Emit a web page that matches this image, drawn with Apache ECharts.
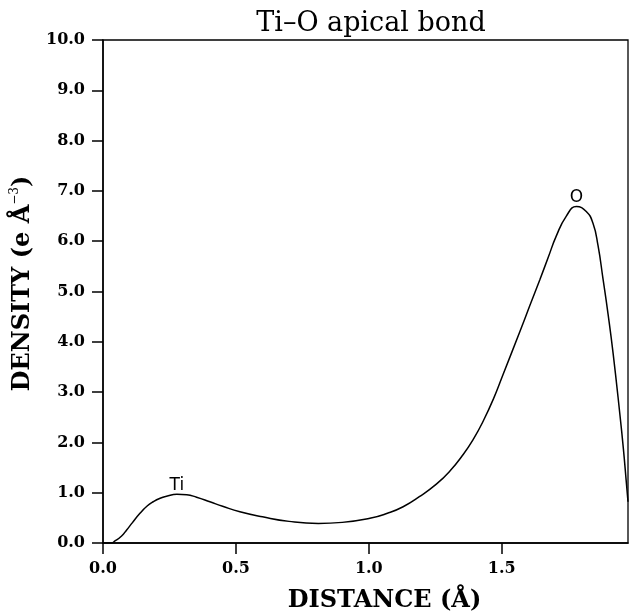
<!DOCTYPE html>
<html><head><meta charset="utf-8">
<script src="https://cdn.jsdelivr.net/npm/echarts@6/dist/echarts.min.js"></script>
<style>html,body{margin:0;padding:0;background:#fff}#c{width:631px;height:613px}</style>
</head><body><div id="c"></div>
<script>
const distance = [0, 0.03, 0.045, 0.07, 0.089, 0.11, 0.139, 0.165, 0.189, 0.215, 0.239, 0.278, 0.315, 0.352, 0.402, 0.45, 0.515, 0.60, 0.70, 0.81, 0.90, 1.004, 1.07, 1.129, 1.19, 1.254, 1.305, 1.355, 1.395, 1.43, 1.47, 1.505, 1.568, 1.605, 1.643, 1.675, 1.705, 1.743, 1.781, 1.818, 1.843, 1.862, 1.881, 1.900, 1.919, 1.944, 1.958, 1.968, 1.975];
const density  = [0, 0, 0.04, 0.14, 0.26, 0.40, 0.59, 0.73, 0.82, 0.89, 0.93, 0.97, 0.96, 0.91, 0.82, 0.73, 0.62, 0.52, 0.43, 0.39, 0.41, 0.49, 0.59, 0.72, 0.92, 1.17, 1.43, 1.76, 2.08, 2.42, 2.88, 3.35, 4.20, 4.71, 5.23, 5.68, 6.10, 6.50, 6.69, 6.59, 6.36, 5.92, 5.25, 4.55, 3.77, 2.58, 1.85, 1.25, 0.82];
const peakLabels = [{name: 'Ti', x: 0.278, y: 0.97}, {name: 'O', x: 1.781, y: 6.69}];
const xTicks = [0, 0.5, 1.0, 1.5];
const yTicks = [0,1,2,3,4,5,6,7,8,9,10];

const serif = '"DejaVu Serif", "Liberation Serif", serif';
const chart = echarts.init(document.getElementById('c'));
chart.setOption({
  backgroundColor: '#fff',
  animation: false,
  title: {
    text: 'Ti–O apical bond', left: 366, top: 5, textAlign: 'center',
    textStyle: {fontFamily: serif, fontWeight: 'normal', fontSize: 27, color: '#000'}
  },
  grid: {left: 103, right: 3, top: 40, bottom: 70, show: true, borderColor: '#000', borderWidth: 1.3,
    containLabel: false, outerBoundsMode: 'none'},
  xAxis: {
    type: 'value', min: 0, max: 1.975, interval: 0.5,
    name: 'DISTANCE (Å)', nameLocation: 'middle', nameGap: 46,
    nameTextStyle: {fontFamily: serif, fontWeight: 'bold', fontSize: 24, color: '#000', padding: [0,0,0,38]},
    axisLine: {lineStyle: {color: '#000', width: 1.5}},
    axisTick: {length: 11, lineStyle: {color: '#000', width: 1.5}},
    axisLabel: {showMaxLabel: false, margin: 18, fontFamily: serif, fontWeight: 'bold', fontSize: 16, color: '#000',
      formatter: v => xTicks.some(t => Math.abs(t - v) < 1e-6) ? v.toFixed(1) : ''},
    splitLine: {show: false}
  },
  yAxis: {
    type: 'value', min: 0, max: 10, interval: 1,
    name: '{a|DENSITY (e Å}{s|−3}{a|)}', nameLocation: 'middle', nameGap: 63,
    nameTextStyle: {padding: [0,0,0,16], rich: {
      a: {fontFamily: serif, fontWeight: 'bold', fontSize: 24, color: '#000'},
      s: {fontFamily: serif, fontSize: 12, color: '#000', verticalAlign: 'top', padding: [0,0,16,0]}
    }},
    axisLine: {lineStyle: {color: '#000', width: 1.5}},
    axisTick: {length: 11, lineStyle: {color: '#000', width: 1.5}},
    axisLabel: {margin: 18, fontFamily: serif, fontWeight: 'bold', fontSize: 16, color: '#000',
      formatter: v => yTicks.includes(v) ? v.toFixed(1) : ''},
    splitLine: {show: false}
  },
  series: [{
    type: 'line', smooth: 0.5, symbol: 'none',
    data: distance.map((d, i) => [d, density[i]]),
    lineStyle: {color: '#000', width: 1.5},
    markPoint: {
      symbol: 'circle', symbolSize: 0,
      label: {show: true, position: 'top', distance: 0, formatter: p => p.name,
        fontFamily: '"DejaVu Sans", sans-serif', fontSize: 17, color: '#000'},
      data: peakLabels.map(p => ({name: p.name, coord: [p.x, p.y]}))
    }
  }]
});
</script></body></html>
